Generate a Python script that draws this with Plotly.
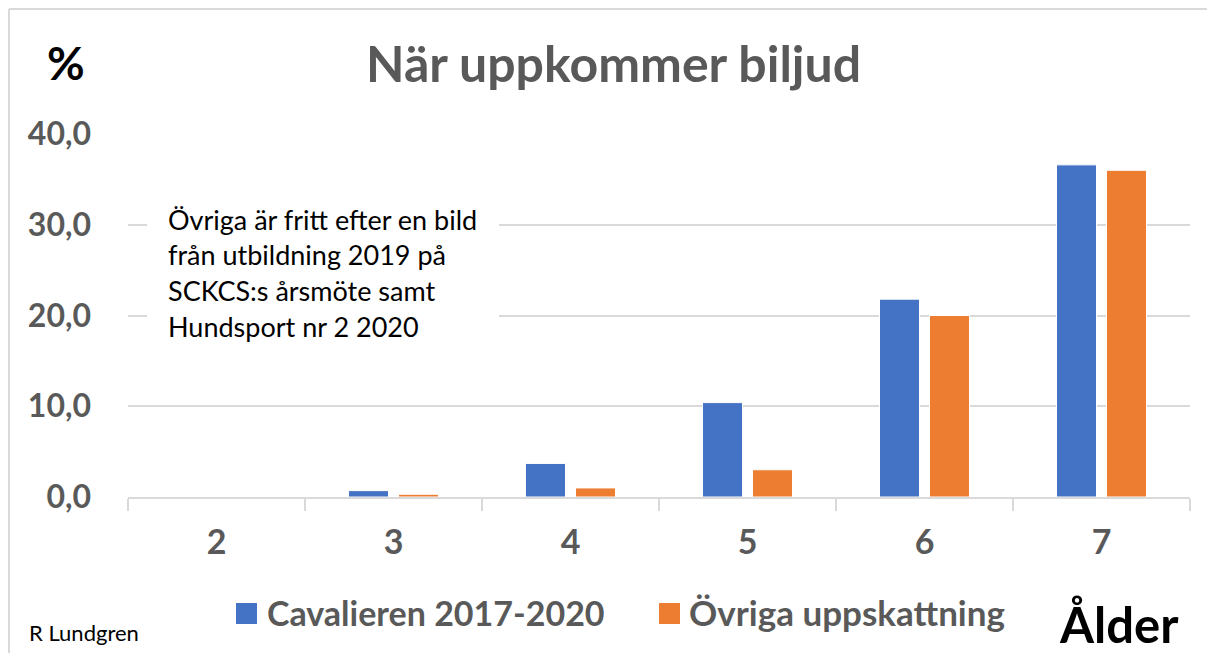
import plotly.graph_objects as go

# ---- data ----
ages = ["2", "3", "4", "5", "6", "7"]
cavalieren = [0.0, 0.7, 3.7, 10.4, 21.8, 36.6]
ovriga = [0.0, 0.3, 1.0, 3.0, 20.0, 36.0]
series_names = ["Cavalieren 2017-2020", "Övriga uppskattning"]
y_ticks = [0, 10, 20, 30, 40]
title_text = "När uppkommer biljud"
note_lines = ["Övriga är fritt efter en bild", "från utbildning 2019 på",
              "SCKCS:s årsmöte samt", "Hundsport nr 2 2020"]

BLUE = "#4472C4"
ORANGE = "#ED7D31"
GRAY = "#595959"
GRID = "#D9D9D9"
FONT = "Lato"

# page body has an 8px margin; work in reference-pixel coordinates
OFF = 8
W, H = 1215 - OFF, 653 - OFF
L, R, T, B = 128 - OFF, 25, 134 - OFF, 156
PW, PH = W - L - R, H - T - B


def px(x):
    return (x - OFF - L) / PW


def py(y):
    return (H - B - (y - OFF)) / PH


fig = go.Figure()
fig.add_trace(go.Bar(x=ages, y=cavalieren, name=series_names[0],
                     marker=dict(color=BLUE, line=dict(color="white", width=1)),
                     showlegend=False))
fig.add_trace(go.Bar(x=ages, y=ovriga, name=series_names[1],
                     marker=dict(color=ORANGE, line=dict(color="white", width=1)),
                     showlegend=False))

shapes = [
    # outer chart frame (top and left edges visible)
    dict(type="line", xref="paper", yref="paper", x0=px(9), x1=px(1216),
         y0=py(9), y1=py(9), line=dict(color=GRID, width=2), layer="below"),
    dict(type="line", xref="paper", yref="paper", x0=px(9), x1=px(9),
         y0=py(9), y1=py(660), line=dict(color=GRID, width=2), layer="below"),
    # white box behind the note
    dict(type="rect", xref="paper", yref="paper", x0=px(147), x1=px(499),
         y0=py(370), y1=py(180), line=dict(width=0), fillcolor="white", layer="above"),
    # legend squares
    dict(type="rect", xref="paper", yref="paper", x0=px(236), x1=px(257),
         y0=py(624), y1=py(603), line=dict(width=0), fillcolor=BLUE),
    dict(type="rect", xref="paper", yref="paper", x0=px(659), x1=px(680),
         y0=py(624), y1=py(603), line=dict(width=0), fillcolor=ORANGE),
]

annotations = [
    dict(text="<b>" + title_text + "</b>", x=px(613), y=py(63), xref="paper", yref="paper",
         showarrow=False, xanchor="center", yanchor="middle",
         font=dict(family=FONT, size=50, color=GRAY)),
    dict(text="<b>%</b>", x=px(66), y=py(62), xref="paper", yref="paper",
         showarrow=False, xanchor="center", yanchor="middle",
         font=dict(family=FONT, size=46, color="black")),
    dict(text="<b>Ålder</b>", x=px(1181), y=py(624), xref="paper", yref="paper",
         showarrow=False, xanchor="right", yanchor="middle",
         font=dict(family=FONT, size=49, color="black")),
    dict(text="R Lundgren", x=px(27), y=py(632), xref="paper", yref="paper",
         showarrow=False, xanchor="left", yanchor="middle",
         font=dict(family=FONT, size=22, color="black")),
    dict(text="<b>" + series_names[0] + "</b>", x=px(265), y=py(612), xref="paper", yref="paper",
         showarrow=False, xanchor="left", yanchor="middle",
         font=dict(family=FONT, size=34, color=GRAY)),
    dict(text="<b>" + series_names[1] + "</b>", x=px(687), y=py(612), xref="paper", yref="paper",
         showarrow=False, xanchor="left", yanchor="middle",
         font=dict(family=FONT, size=35, color=GRAY)),
]
for i, line in enumerate(note_lines):
    annotations.append(dict(text=line, x=px(166), y=py(219 + i * 35.7), xref="paper", yref="paper",
                            showarrow=False, xanchor="left", yanchor="middle",
                            font=dict(family=FONT, size=27, color="black")))

fig.update_layout(
    width=W, height=H,
    margin=dict(l=L, r=R, t=T, b=B),
    paper_bgcolor="white", plot_bgcolor="white",
    barmode="group", bargap=0.435, bargroupgap=0.2,
    separators=",.",
    font=dict(family=FONT, color=GRAY),
    shapes=shapes, annotations=annotations,
    xaxis=dict(type="category", showgrid=False, showline=True, linecolor=GRID, linewidth=2,
               ticks="outside", tickson="boundaries", ticklen=12, tickwidth=2, tickcolor=GRID,
               tickfont=dict(family=FONT, size=34, color=GRAY, weight="bold"),
               ticklabelstandoff=14, zeroline=False),
    yaxis=dict(range=[0, 40], tickvals=y_ticks, tickformat=".1f", showgrid=True,
               gridcolor=GRID, gridwidth=2, zeroline=False, showline=False, ticks="",
               tickfont=dict(family=FONT, size=32, color=GRAY, weight="bold"),
               ticklabelstandoff=36),
)

fig.write_html("out.html", default_width=f"{W}px", default_height=f"{H}px")
